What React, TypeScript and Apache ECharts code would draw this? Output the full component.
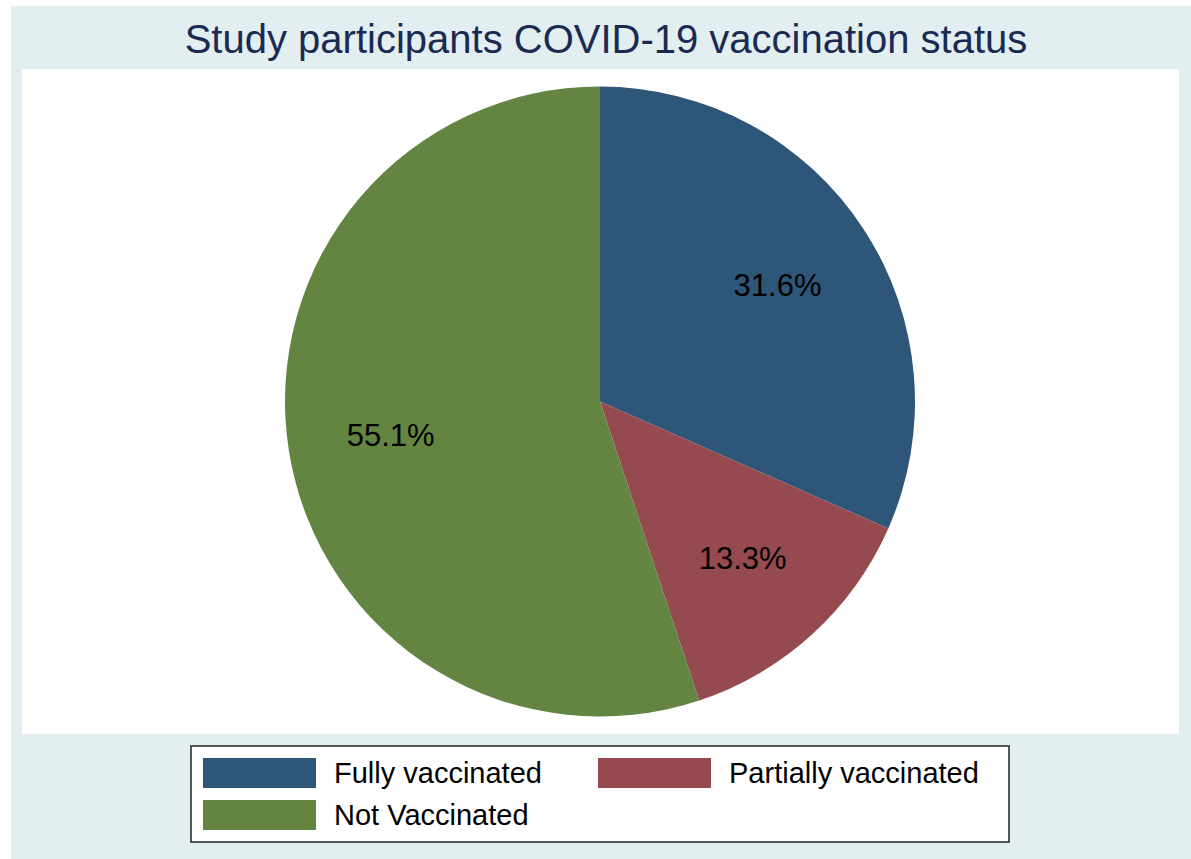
import React, { useEffect, useRef } from "react";
import * as echarts from "echarts";

const titleText = "Study participants COVID-19 vaccination status";
const categories = ["Fully vaccinated", "Partially vaccinated", "Not Vaccinated"];
const percentages = [31.6, 13.3, 55.1];
const colors = ["#2E5679", "#954A50", "#648542"];

export default function App() {
  const ref = useRef<HTMLDivElement>(null);
  useEffect(() => {
    document.body.style.margin = "0";
    const chart = echarts.init(ref.current!, null, { renderer: "svg" });
    const font = "'Liberation Sans', Arial, Helvetica, sans-serif";
    const mainData = categories.map((c, i) => ({
      name: c,
      value: percentages[i],
      itemStyle: { color: colors[i] },
    }));
    const labelData = categories.map((c, i) => ({
      name: c + " ",
      value: percentages[i],
    }));
    chart.setOption({
      animation: false,
      backgroundColor: "#ffffff",
      title: {
        text: titleText,
        left: 601,
        top: 14,
        textAlign: "center",
        textStyle: { fontFamily: font, fontSize: 40, fontWeight: "normal", color: "#1B2A52" },
      },
      graphic: [
        { type: "rect", z: -10, shape: { x: 11, y: 6, width: 1180, height: 853 }, style: { fill: "#E2EEF0" } },
        { type: "rect", z: -9, shape: { x: 22, y: 69, width: 1157, height: 665 }, style: { fill: "#ffffff" } },
        {
          type: "rect",
          z: -8,
          shape: { x: 191, y: 746, width: 818, height: 96 },
          style: { fill: "#ffffff", stroke: "#222222", lineWidth: 1.5 },
        },
      ],
      legend: [
        {
          data: [categories[0], categories[2]],
          orient: "vertical",
          left: 203,
          top: 758,
          padding: 0,
          itemWidth: 113,
          itemHeight: 30,
          itemGap: 12,
          icon: "rect",
          selectedMode: false,
          textStyle: { fontFamily: font, fontSize: 29, color: "#000000", padding: [0, 0, 0, 13] },
        },
        {
          data: [categories[1]],
          orient: "vertical",
          left: 598,
          top: 758,
          padding: 0,
          itemWidth: 113,
          itemHeight: 30,
          icon: "rect",
          selectedMode: false,
          textStyle: { fontFamily: font, fontSize: 29, color: "#000000", padding: [0, 0, 0, 13] },
        },
      ],
      series: [
        {
          type: "pie",
          center: [600, 401.5],
          radius: [0, 315],
          startAngle: 90,
          clockwise: true,
          silent: true,
          label: { show: false },
          labelLine: { show: false },
          itemStyle: { borderWidth: 0 },
          data: mainData,
        },
        {
          type: "pie",
          center: [600, 401.5],
          radius: [0, 418],
          startAngle: 90,
          clockwise: true,
          silent: true,
          z: 3,
          itemStyle: { color: "rgba(0,0,0,0)", borderWidth: 0 },
          label: {
            show: true,
            position: "inside",
            fontFamily: font,
            fontSize: 31,
            color: "#000000",
            formatter: (p: any) => p.value.toFixed(1) + "%",
          },
          labelLine: { show: false },
          data: labelData,
        },
      ],
    });
    return () => chart.dispose();
  }, []);
  return <div ref={ref} style={{ width: 1191, height: 859 }} />;
}
